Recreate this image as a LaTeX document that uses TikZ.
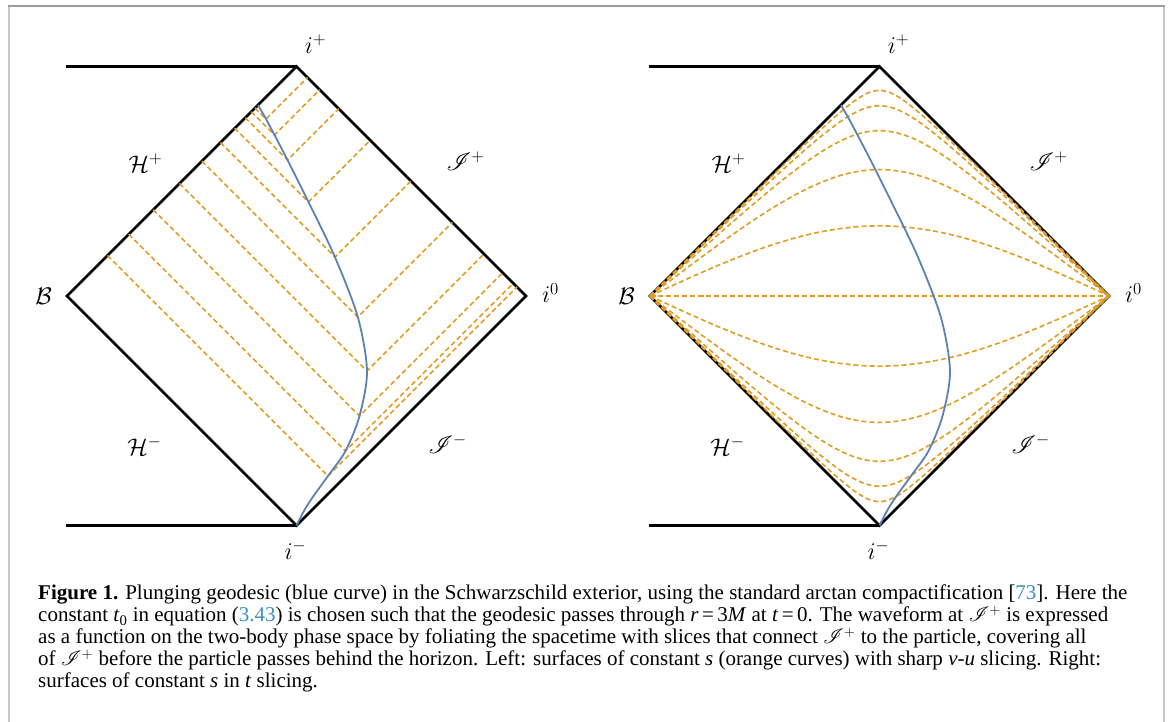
\documentclass[tikz,border=0pt]{standalone}
\usepackage{fix-cm}
\usepackage{fontspec}
\setmainfont{Liberation Serif}
\usepackage{mathrsfs}
\usepackage{xcolor}
\usetikzlibrary{positioning, calc}

\definecolor{geoblue}{HTML}{5E81B5}
\definecolor{sliceorange}{HTML}{E19C24}
\definecolor{linkblue}{HTML}{3A8FC8}
\definecolor{sidegray}{HTML}{C6C6C6}
\definecolor{topgray}{HTML}{9C9C9C}

\newcommand{\scrip}{\smash{$\mathscr{I}^+$}}

\begin{document}
\begin{tikzpicture}[
                x=1pt, y=1pt,
                bdry/.style={draw=black, line width=2.8pt},
                geodesic/.style={draw=geoblue, line width=1.8pt},
                slice/.style={draw=sliceorange, line width=1.6pt, dash pattern=on 5pt off 3pt},
                lbl/.style={inner sep=0pt, font=\fontsize{24}{28}\selectfont},
                captxt/.style={inner sep=0pt, anchor=north west, align=left, font=\fontsize{21}{22}\selectfont}
            ]
                % Page and frame
                \useasboundingbox (0,0) rectangle (1171,722);
                \fill[white] (0,0) rectangle (1171,722);
                \draw[sidegray, line width=1.5pt] (9,0) -- (9,716);
                \draw[sidegray, line width=1.5pt] (1164,0) -- (1164,716);
                \draw[topgray, line width=1.5pt] (8.25,716) -- (1164.75,716);

                % Penrose diagrams
                \foreach \s/\cx in {L/296.5, R/879.5} {
                    \begin{scope}[shift={(\cx,426)}]
                        \coordinate (ip\s) at (0,229.5);
                        \coordinate (im\s) at (0,-229.5);
                        \coordinate (B\s) at (-229.5,0);
                        \coordinate (i0\s) at (229.5,0);
                        \coordinate (tl\s) at (-231,229.5);
                        \coordinate (bl\s) at (-231,-229.5);
                        \draw[bdry] (B\s) -- (ip\s) -- (i0\s) -- (im\s) -- cycle;
                        \draw[bdry] (tl\s) -- (ip\s);
                        \draw[bdry] (bl\s) -- (im\s);
                    \end{scope}
                }

                % Sharp v-u slicing
                \begin{scope}[shift={(296.5,426)}]
                    \foreach \X/\T in {31.5/-180, 49/-155, 63/-120, 70.5/-75, 61.3/-21,
                                       38.4/39, 12/94, -9/136, -22/161, -30.5/177} {
                        \pgfmathsetmacro\V{\T+\X}
                        \pgfmathsetmacro\U{\T-\X}
                        \draw[slice] ({(\V-229.5)/2},{(\V+229.5)/2}) -- (\X,\T)
                            -- ({(229.5-\U)/2},{(229.5+\U)/2});
                    }
                \end{scope}

                % t slicing
                \begin{scope}[shift={(879.5,426)}]
                    \foreach \k in {-5,...,5}
                        \draw[slice] (BR) -- plot[domain=-7:7, samples=141, variable=\lam]
                            ({-229.5+2.55*(atan(exp(\lam+\k/2))+atan(exp(\lam-\k/2)))},
                             {2.55*(atan(exp(\lam+\k/2))-atan(exp(\lam-\k/2)))}) -- (i0R);
                \end{scope}

                % Geodesic and labels
                \foreach \s/\cx in {L/296.5, R/879.5} {
                    \begin{scope}[shift={(\cx,426)}]
                        \draw[geodesic] plot[smooth] coordinates {(0,-229.5) (8,-214) (17,-200)
                            (31.5,-180) (49,-155) (63,-120) (70.5,-75) (61.3,-21)
                            (38.4,39) (12,94) (-9,136) (-22,161) (-30.5,177) (-38.5,191)};
                        \node[lbl] (lip\s) at (19,252) {$i^+$};
                        \node[lbl] (lim\s) at (-1,-254) {$i^-$};
                        \node[lbl] (lB\s) at (-253,0) {$\mathcal{B}$};
                        \node[lbl] (li0\s) at (254,3) {$i^0$};
                        \node[lbl] (lHp\s) at (-151,133) {$\mathcal{H}^+$};
                        \node[lbl] (lHm\s) at (-152,-150) {$\mathcal{H}^-$};
                        \node[lbl] (lSp\s) at (169,135) {$\mathscr{I}^+$};
                        \node[lbl] (lSm\s) at (151,-148) {$\mathscr{I}^-$};
                    \end{scope}
                }

                % Caption
                \node[captxt] (cap) at (38,137) {\textbf{Figure 1.} Plunging geodesic (blue curve) in the Schwarzschild exterior, using the standard arctan compactification [\textcolor{linkblue}{73}]. Here the\\
                constant \textit{t}\textsubscript{0} in equation (\textcolor{linkblue}{3.43}) is chosen such that the geodesic passes through \textit{r}\,=\,3\textit{M} at \textit{t}\,=\,0. The waveform at \scrip{} is expressed\\
                as a function on the two-body phase space by foliating the spacetime with slices that connect \scrip{} to the particle, covering all\\
                of \scrip{} before the particle passes behind the horizon. Left: surfaces of constant \textit{s} (orange curves) with sharp \textit{v}-\textit{u} slicing. Right:\\
                surfaces of constant \textit{s} in \textit{t} slicing.};
            \end{tikzpicture}
\end{document}
